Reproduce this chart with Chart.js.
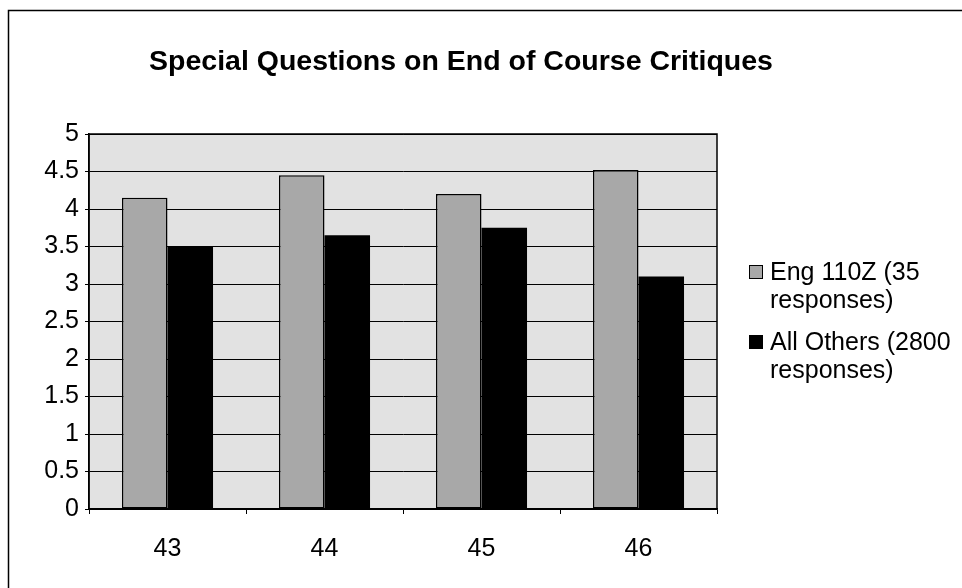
<!DOCTYPE html>
<html>
<head>
<meta charset="utf-8">
<title>Special Questions on End of Course Critiques</title>
<script src="https://cdn.jsdelivr.net/npm/chart.js@4/dist/chart.umd.min.js"></script>
<style>
  html, body { margin: 0; padding: 0; background: #ffffff; }
  #wrap { width: 962px; height: 588px; position: relative; }
</style>
</head>
<body>
<div id="wrap"><canvas id="chart" width="962" height="588"></canvas></div>
<script>
// Question numbers on the critique form
const questions = ['43', '44', '45', '46'];

// Mean ratings per question
const eng110zScores = [4.15, 4.45, 4.2, 4.52];
const allOthersScores = [3.5, 3.65, 3.75, 3.1];

// Series names, and how they wrap in the legend
const seriesNames = ['Eng 110Z (35 responses)', 'All Others (2800 responses)'];
const legendLines = [['Eng 110Z (35', 'responses)'], ['All Others (2800', 'responses)']];

const chartTitle = 'Special Questions on End of Course Critiques';

const FONT = "'Liberation Sans', Arial, Helvetica, sans-serif";
const PLOT_BG = '#e2e2e2';
const GRAY_BAR = '#a8a8a8';

// Plot background, frame, title, legend and outer border
const decorations = {
  id: 'decorations',
  beforeDraw(chart) {
    const { ctx, chartArea: a } = chart;
    ctx.save();
    ctx.fillStyle = '#ffffff';
    ctx.fillRect(0, 0, chart.width, chart.height);
    ctx.fillStyle = PLOT_BG;
    ctx.fillRect(a.left, a.top, a.right - a.left, a.bottom - a.top);
    ctx.restore();
  },
  afterDraw(chart) {
    const { ctx, chartArea: a } = chart;
    ctx.save();
    // plot frame
    ctx.strokeStyle = '#000';
    ctx.lineWidth = 1.5;
    ctx.strokeRect(a.left, a.top, a.right - a.left, a.bottom - a.top);

    // outer chart border (runs off the right and bottom edges)
    ctx.lineWidth = 1.5;
    ctx.strokeRect(8.5, 10.5, 1100, 800);

    // title
    ctx.fillStyle = '#000';
    ctx.font = 'bold 28.5px ' + FONT;
    ctx.textAlign = 'center';
    ctx.textBaseline = 'alphabetic';
    ctx.fillText(chartTitle, 461, 70);

    // legend
    ctx.font = '25px ' + FONT;
    ctx.textAlign = 'left';
    const firstBaselines = [280, 350];
    chart.data.datasets.forEach((ds, i) => {
      const base = firstBaselines[i];
      ctx.fillStyle = ds.backgroundColor;
      ctx.fillRect(749, base - 15, 14, 14);
      if (ds.borderWidth) {
        ctx.strokeStyle = '#000';
        ctx.lineWidth = 1;
        ctx.strokeRect(749.5, base - 14.5, 13, 13);
      }
      ctx.fillStyle = '#000';
      legendLines[i].forEach((line, j) => {
        ctx.fillText(line, 770, base + j * 28);
      });
    });
    ctx.restore();
  }
};

new Chart(document.getElementById('chart'), {
  type: 'bar',
  data: {
    labels: questions,
    datasets: [
      {
        label: seriesNames[0],
        data: eng110zScores,
        backgroundColor: GRAY_BAR,
        borderColor: '#000',
        borderWidth: 1.5,
        borderSkipped: false,
        categoryPercentage: 0.58,
        barPercentage: 1.0
      },
      {
        label: seriesNames[1],
        data: allOthersScores,
        backgroundColor: '#000000',
        borderWidth: 0,
        categoryPercentage: 0.58,
        barPercentage: 1.0
      }
    ]
  },
  options: {
    responsive: false,
    animation: false,
    devicePixelRatio: 1,
    layout: { padding: { top: 134, right: 245, left: 0, bottom: 0 } },
    plugins: {
      legend: { display: false },
      title: { display: false },
      tooltip: { enabled: false }
    },
    scales: {
      x: {
        offset: true,
        grid: {
          drawOnChartArea: false,
          color: '#000',
          tickLength: 5,
          offset: true
        },
        border: { display: true, color: '#000', width: 1.5 },
        ticks: {
          color: '#000',
          font: { family: FONT, size: 25 },
          padding: 20,
          maxRotation: 0
        },
        afterFit(scale) { scale.height = 79; }
      },
      y: {
        min: 0,
        max: 5,
        grid: {
          color: '#000',
          lineWidth: 1,
          tickLength: 4
        },
        border: { display: true, color: '#000', width: 1.5 },
        ticks: {
          stepSize: 0.5,
          color: '#000',
          font: { family: FONT, size: 25 },
          padding: 6,
          callback: (value) => String(Number(value))
        },
        afterFit(scale) { scale.width = 89; }
      }
    }
  },
  plugins: [decorations]
});
</script>
</body>
</html>
